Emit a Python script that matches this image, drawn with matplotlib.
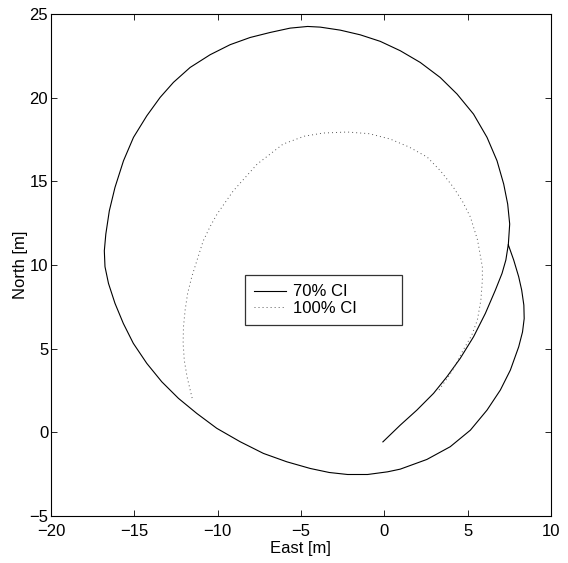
import matplotlib
matplotlib.use("Agg")
import matplotlib.pyplot as plt

plt.rcParams['font.family'] = ['Liberation Sans', 'DejaVu Sans']
plt.rcParams['lines.scale_dashes'] = False

# 70% confidence boundary (East, North) in metres
ci70_east = [-0.08, 0.96, 1.96, 2.96, 3.76, 4.56, 5.36, 6.07, 6.67, 7.07, 7.30,
             7.45, 7.53, 7.41, 7.17, 6.77, 6.17, 5.36, 4.37, 3.36, 2.16, 0.96,
             -0.24, -1.44, -2.64, -3.84, -4.6, -5.65, -6.85, -8.05, -9.25, -10.45,
             -11.65, -12.65, -13.45, -14.25, -15.05, -15.65, -16.16, -16.5, -16.71,
             -16.8, -16.76, -16.55, -16.16, -15.66, -15.06, -14.25, -13.35, -12.35,
             -11.25, -10.05, -8.65, -7.25, -5.85, -4.44, -3.3, -2.2, -1.0, 0.2,
             0.96, 2.56, 3.96, 5.17, 6.17, 6.97, 7.57, 8.07, 8.3, 8.4, 8.38, 8.25,
             8.07, 7.77, 7.45]
ci70_north = [-0.57, 0.43, 1.33, 2.33, 3.32, 4.42, 5.71, 7.11, 8.50, 9.50, 10.30,
              11.25, 12.45, 13.64, 14.84, 16.23, 17.63, 19.02, 20.22, 21.21, 22.11,
              22.81, 23.37, 23.76, 24.04, 24.22, 24.26, 24.16, 23.9, 23.6, 23.17,
              22.57, 21.81, 20.92, 20.02, 18.92, 17.63, 16.23, 14.64, 13.24, 11.85,
              10.85, 9.9, 8.9, 7.71, 6.51, 5.32, 4.12, 3.02, 2.03, 1.13, 0.24,
              -0.56, -1.26, -1.76, -2.16, -2.4, -2.52, -2.52, -2.36, -2.2, -1.62,
              -0.86, 0.13, 1.33, 2.53, 3.72, 5.11, 6.0, 6.8, 7.6, 8.5, 9.30, 10.30,
              11.2]

# 100% confidence boundary
ci100_east = [-11.53, -11.83, -12.0, -12.07, -12.05, -11.95, -11.8, -11.55, -11.2,
              -10.87, -10.45, -10.03, -9.07, -7.63, -6.07, -4.8, -3.66, -2.22, -0.9,
              0.36, 1.5, 2.58, 3.4, 4.14, 4.7, 5.17, 5.6, 5.89, 5.89, 5.8, 5.59,
              5.25, 4.74, 4.1, 3.2]
ci100_north = [2.05, 3.3, 4.3, 5.33, 6.3, 7.31, 8.3, 9.3, 10.4, 11.43, 12.3, 13.05,
               14.42, 16.03, 17.23, 17.7, 17.89, 17.95, 17.85, 17.53, 17.05, 16.45,
               15.6, 14.66, 13.8, 12.87, 11.5, 9.88, 9.1, 7.9, 6.71, 5.8, 4.92, 3.7,
               2.4]

labels = ['70% CI', '100% CI']
x_ticks = [-20, -15, -10, -5, 0, 5, 10]
y_ticks = [-5, 0, 5, 10, 15, 20, 25]

fig = plt.figure(figsize=(5.68, 5.63), dpi=100)
ax = fig.add_axes([0.0898, 0.0835, 0.880, 0.8915])

ax.plot(ci70_east, ci70_north, color='black', lw=0.8, label=labels[0])
ax.plot(ci100_east, ci100_north, color='#555555', lw=0.7,
        linestyle=(0, (0.7, 2.2)), label=labels[1])

ax.set_xlim(-20, 10)
ax.set_ylim(-5, 25)
ax.set_xticks(x_ticks)
ax.set_yticks(y_ticks)
ax.tick_params(direction='in', top=True, right=True, length=4, width=0.6,
               labelsize=12)
ax.tick_params(axis='x', pad=6)
ax.tick_params(axis='y', pad=2)
for s in ax.spines.values():
    s.set_linewidth(0.8)

ax.set_xlabel('East [m]', fontsize=12, labelpad=1.5)
ax.set_ylabel('North [m]', fontsize=12, labelpad=1)

leg = ax.legend(loc='center', bbox_to_anchor=(0.388, 0.3765, 0.314, 0.1075),
                mode='expand', fontsize=12, frameon=True, fancybox=False,
                handlelength=1.9, handletextpad=0.45, borderpad=0.55,
                labelspacing=0.08, borderaxespad=0)
leg.get_frame().set_edgecolor('black')
leg.get_frame().set_linewidth(0.9)

fig.savefig('out.png', dpi=100)
